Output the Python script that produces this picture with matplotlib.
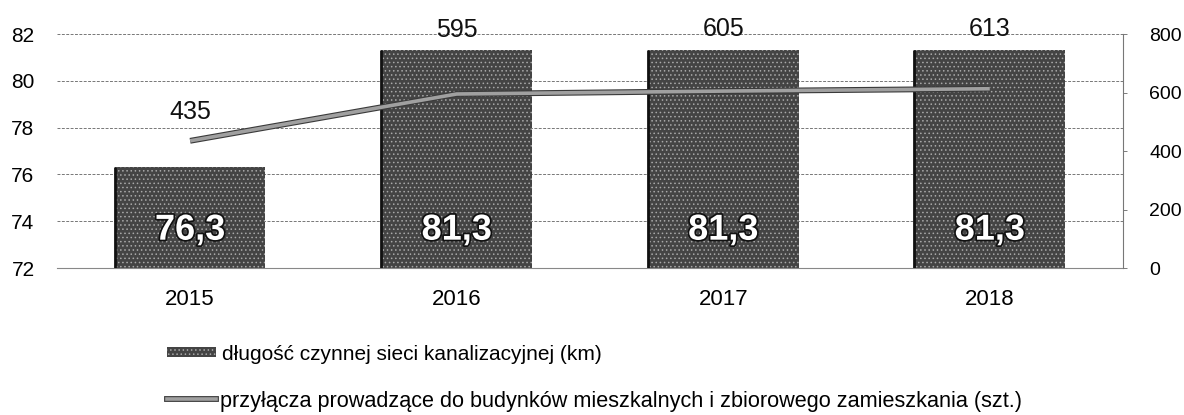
import matplotlib
matplotlib.use("Agg")
import matplotlib.pyplot as plt
import matplotlib.patheffects as pe
from matplotlib.patches import Patch
from matplotlib.lines import Line2D

years = ["2015", "2016", "2017", "2018"]
siec_km = [76.3, 81.3, 81.3, 81.3]
przylacza = [435, 595, 605, 613]
bar_labels = ["76,3", "81,3", "81,3", "81,3"]
line_labels = ["435", "595", "605", "613"]
left_ticks = [72, 74, 76, 78, 80, 82]
right_ticks = [0, 200, 400, 600, 800]
legend_bar = "długość czynnej sieci kanalizacyjnej (km)"
legend_line = "przyłącza prowadzące do budynków mieszkalnych i zbiorowego zamieszkania (szt.)"

FONT = ["Liberation Sans", "DejaVu Sans"]
plt.rcParams["font.family"] = FONT
plt.rcParams["hatch.linewidth"] = 0.6

fig = plt.figure(figsize=(11.84, 4.15), dpi=100)
ax = fig.add_axes([0.048, 0.354, 0.9005, 0.564])
ax2 = ax.twinx()

x = list(range(len(years)))
bars = ax.bar(x, [v - 72 for v in siec_km], bottom=72, width=0.565,
              color="#444444", edgecolor="#a8a8a8", hatch="....", linewidth=0, zorder=2)
for b in bars:
    b.set_edgecolor("#a8a8a8")
    ax.plot([b.get_x(), b.get_x()], [b.get_y(), b.get_y() + b.get_height()],
            color="#111111", linewidth=2, zorder=3, solid_capstyle="butt")

ax.set_ylim(72, 82)
ax.set_xlim(-0.5, 3.5)
ax.set_yticks(left_ticks)
ax.set_xticks(x)
ax.set_xticklabels(years)
ax.tick_params(axis="y", length=0, pad=16, labelsize=15)
ax.tick_params(axis="x", length=0, pad=15, labelsize=16)
ax.grid(axis="y", color="#777777", linestyle=(0, (3, 1.5)), linewidth=0.7, zorder=0)
for s in ["left", "top", "right"]:
    ax.spines[s].set_visible(False)
ax.spines["bottom"].set_color("#888888")
ax.spines["bottom"].set_linewidth(0.8)

for xi, lab in zip(x, bar_labels):
    ax.text(xi, 0.162, lab, transform=ax.get_xaxis_transform(), ha="center", va="center",
            color="white", fontsize=26, fontweight="bold", zorder=5,
            path_effects=[pe.withStroke(linewidth=2.5, foreground="#111111")])

ax2.plot(x, przylacza, color="#a0a0a0", linewidth=2.6, solid_capstyle="butt", zorder=4,
         path_effects=[pe.Stroke(linewidth=4.2, foreground="#3a3a3a"), pe.Normal()])
ax2.set_ylim(0, 800)
ax2.set_yticks(right_ticks)
ax2.tick_params(axis="y", length=3, width=0.6, color="#666666", pad=16, labelsize=14)
for s in ["left", "top", "bottom"]:
    ax2.spines[s].set_visible(False)
ax2.spines["right"].set_color("#777777")
ax2.spines["right"].set_linewidth(0.8)

label_offsets = [29, 64, 62, 60]
for xi, v, lab, off in zip(x, przylacza, line_labels, label_offsets):
    ax2.annotate(lab, (xi, v), xytext=(0, off * 0.72), textcoords="offset points",
                 ha="center", va="center", fontsize=18, color="#111111", zorder=6)

h1 = Patch(facecolor="#444444", edgecolor="#a8a8a8", hatch="....", linewidth=0)
h2 = Line2D([0], [0], color="#a0a0a0", linewidth=2.6,
            path_effects=[pe.Stroke(linewidth=4.2, foreground="#3a3a3a"), pe.Normal()])
leg1 = fig.legend([h1], [legend_bar], loc="center left", bbox_to_anchor=(0.141, 1 - 354 / 415),
                  frameon=False, fontsize=15, handlelength=2.35, handleheight=0.35,
                  handletextpad=0.3, borderaxespad=0, borderpad=0)
leg2 = fig.legend([h2], [legend_line], loc="center left", bbox_to_anchor=(0.141, 1 - 401 / 415),
                  frameon=False, fontsize=15.6, handlelength=2.25,
                  handletextpad=0.2, borderaxespad=0, borderpad=0)

fig.savefig("out.png", dpi=100)
